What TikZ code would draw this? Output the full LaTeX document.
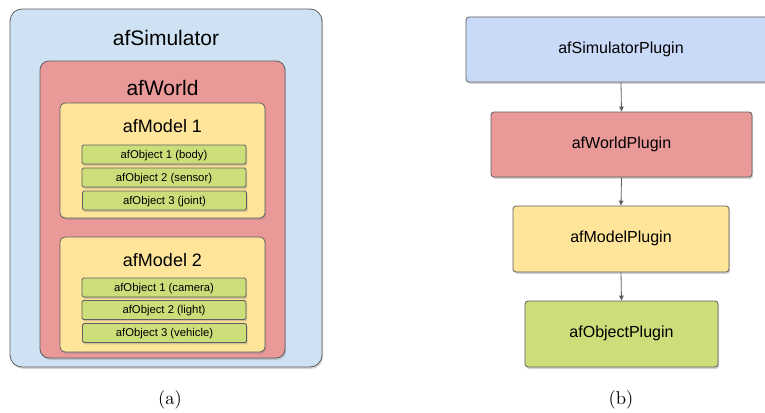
\documentclass[tikz,border=0pt]{standalone}
\usepackage{fontspec}
\newfontfamily\arialf{Liberation Sans}
\newfontface\capf{lmroman10-regular.otf}
\usetikzlibrary{shadows,arrows.meta}
\definecolor{cblue}{HTML}{CFE2F3}
\definecolor{cpblue}{HTML}{C9DAF8}
\definecolor{cred}{HTML}{EA9999}
\definecolor{cyellow}{HTML}{FFE599}
\definecolor{cgreen}{RGB}{203,222,122}
\definecolor{cedge}{HTML}{5F5F5F}
\tikzset{
  boxbase/.style={draw=cedge, line width=0.8pt, inner sep=0pt,
    drop shadow={shadow xshift=1.2pt, shadow yshift=-1.8pt, opacity=0.35}},
  simbox/.style={boxbase, fill=cblue, rounded corners=12pt},
  worldbox/.style={boxbase, fill=cred, rounded corners=9pt},
  modelbox/.style={boxbase, fill=cyellow, rounded corners=5pt},
  objbox/.style={boxbase, fill=cgreen, rounded corners=1.5pt, minimum width=164pt, minimum height=19pt,
    font=\arialf\fontsize{11.3}{12}\selectfont, text height=0.7em, text depth=0pt},
  plugbox/.style={boxbase, rounded corners=3pt, font=\arialf\fontsize{16}{18}\selectfont,
    text height=0.7em, text depth=0pt},
  bigtitle/.style={anchor=base, inner sep=0pt, font=\arialf\fontsize{21}{24}\selectfont},
  midtitle/.style={anchor=base, inner sep=0pt, font=\arialf\fontsize{18}{21}\selectfont},
  caption/.style={anchor=base, inner sep=0pt, font=\capf\fontsize{18.5}{20}\selectfont},
  arr/.style={draw=cedge, line width=0.8pt, -{Triangle[length=5pt,width=4.5pt]}}
}
\begin{document}
\begin{tikzpicture}[x=1pt,y=-1pt]
\useasboundingbox (0,0) rectangle (765,412);
\clip (0,0) rectangle (765,412);
\fill[white] (0,0) rectangle (765,412);
% (a)
\node[simbox, minimum width=312pt, minimum height=358pt] (sim) at (166,188) {};
\node[bigtitle] (simt) at (166,45.5) {afSimulator};
\node[worldbox, minimum width=245pt, minimum height=297pt] (world) at (162.5,209.5) {};
\node[bigtitle] (worldt) at (162.5,95.5) {afWorld};
\node[modelbox, minimum width=205pt, minimum height=115pt] (m1) at (162.5,160.5) {};
\node[midtitle] (m1t) at (162.5,132.5) {afModel 1};
\node[objbox] (o11) at (164,154.5) {afObject 1 (body)};
\node[objbox] (o12) at (164,177.5) {afObject 2 (sensor)};
\node[objbox] (o13) at (164.5,200.5) {afObject 3 (joint)};
\node[modelbox, minimum width=205pt, minimum height=115pt] (m2) at (162.5,294.5) {};
\node[midtitle] (m2t) at (162.5,266.5) {afModel 2};
\node[objbox] (o21) at (164,287.5) {afObject 1 (camera)};
\node[objbox] (o22) at (164,310) {afObject 2 (light)};
\node[objbox] (o23) at (164.5,333) {afObject 3 (vehicle)};
\node[caption] (capa) at (170,404) {(a)};
% (b)
\node[plugbox, fill=cpblue, minimum width=310pt, minimum height=65pt] (simp) at (621,49.5) {afSimulatorPlugin};
\node[plugbox, fill=cred, minimum width=261pt, minimum height=65pt] (worldp) at (621.5,144.5) {afWorldPlugin};
\node[plugbox, fill=cyellow, minimum width=216pt, minimum height=66pt] (modelp) at (621,239) {afModelPlugin};
\node[plugbox, fill=cgreen, minimum width=193pt, minimum height=66pt] (objp) at (621.5,334) {afObjectPlugin};
\draw[arr] (simp.south) -- (worldp.north);
\draw[arr] (worldp.south) -- (modelp.north);
\draw[arr] (modelp.south) -- (objp.north);
\node[caption] (capb) at (621,404) {(b)};
\end{tikzpicture}
\end{document}
